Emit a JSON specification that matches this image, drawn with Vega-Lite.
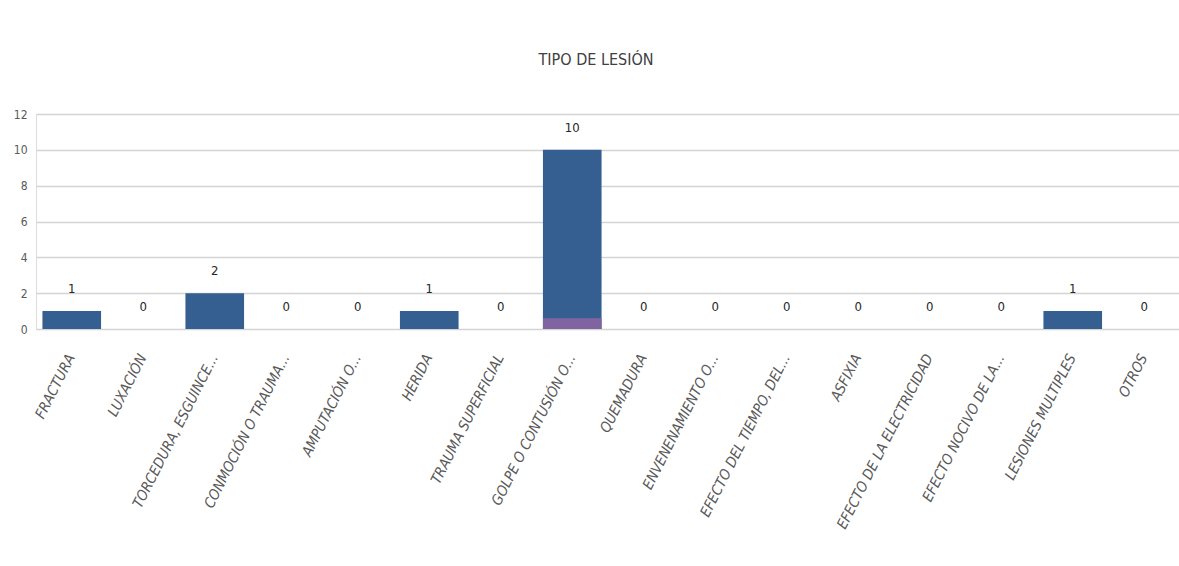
{
  "$schema": "https://vega.github.io/schema/vega-lite/v6.json",
  "autosize": "none",
  "width": 1144,
  "height": 215,
  "padding": {"left": 36, "top": 114, "right": 0, "bottom": 237},
  "background": "white",
  "title": {
    "text": "TIPO DE LESIÓN",
    "font": "DejaVu Sans Condensed, sans-serif",
    "fontSize": 16,
    "fontWeight": "normal",
    "color": "#404040",
    "anchor": "middle",
    "offset": 40,
    "dx": -12
  },
  "data": {
    "values": [
      {"tipo": "FRACTURA", "casos": 1, "parcial": null},
      {"tipo": "LUXACIÓN", "casos": 0, "parcial": null},
      {"tipo": "TORCEDURA, ESGUINCE...", "casos": 2, "parcial": null},
      {"tipo": "CONMOCIÓN O TRAUMA...", "casos": 0, "parcial": null},
      {"tipo": "AMPUTACIÓN O...", "casos": 0, "parcial": null},
      {"tipo": "HERIDA", "casos": 1, "parcial": null},
      {"tipo": "TRAUMA SUPERFICIAL", "casos": 0, "parcial": null},
      {"tipo": "GOLPE O CONTUSIÓN O...", "casos": 10, "parcial": 0.6},
      {"tipo": "QUEMADURA", "casos": 0, "parcial": null},
      {"tipo": "ENVENENAMIENTO O...", "casos": 0, "parcial": null},
      {"tipo": "EFECTO DEL TIEMPO, DEL...", "casos": 0, "parcial": null},
      {"tipo": "ASFIXIA", "casos": 0, "parcial": null},
      {"tipo": "EFECTO DE LA ELECTRICIDAD", "casos": 0, "parcial": null},
      {"tipo": "EFECTO NOCIVO DE LA...", "casos": 0, "parcial": null},
      {"tipo": "LESIONES MULTIPLES", "casos": 1, "parcial": null},
      {"tipo": "OTROS", "casos": 0, "parcial": null}
    ]
  },
  "encoding": {
    "x": {
      "field": "tipo",
      "type": "nominal",
      "sort": null,
      "scale": {"paddingInner": 0.18, "paddingOuter": 0.09},
      "axis": {
        "title": null,
        "domain": false,
        "ticks": false,
        "labelAngle": -63,
        "labelAlign": "right",
        "labelBaseline": "middle",
        "labelPadding": 26,
        "labelFont": "DejaVu Sans Condensed, sans-serif",
        "labelFontStyle": "italic",
        "labelFontSize": 14.5,
        "labelColor": "#595959",
        "labelLimit": 400
      }
    },
    "y": {
      "field": "casos",
      "type": "quantitative",
      "scale": {"domain": [0, 12]},
      "axis": {
        "title": null,
        "values": [0, 2, 4, 6, 8, 10, 12],
        "domain": false,
        "ticks": false,
        "labelPadding": 9,
        "labelFont": "DejaVu Sans Condensed, sans-serif",
        "labelFontSize": 12,
        "labelColor": "#595959",
        "gridColor": "#d4d4d4",
        "gridWidth": 1.6
      }
    }
  },
  "layer": [
    {
      "mark": {"type": "bar", "color": "#365F91"}
    },
    {
      "transform": [{"filter": "datum.parcial != null"}],
      "mark": {"type": "bar", "color": "#8064A2"},
      "encoding": {
        "y": {"field": "parcial", "type": "quantitative"}
      }
    },
    {
      "mark": {
        "type": "text",
        "dy": -22,
        "baseline": "middle",
        "font": "DejaVu Sans Condensed, sans-serif",
        "fontSize": 13,
        "color": "#262626"
      },
      "encoding": {
        "text": {"field": "casos", "type": "quantitative"}
      }
    }
  ]
}
